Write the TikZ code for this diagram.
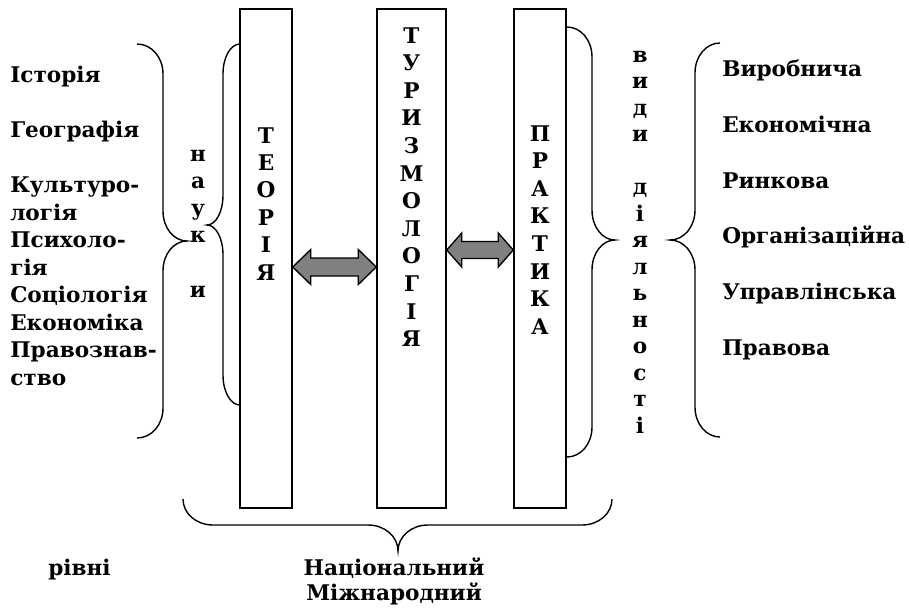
\documentclass[tikz,border=0pt]{standalone}
\usepackage{fontspec}
\setmainfont{DejaVu Serif}
\usetikzlibrary{calc}
% vertical brace: x_end, y_top, y_bot, x_body, x_tip, y_tip
\newcommand\vbr[6]{%
  \draw[brc] (#1,#2) .. controls ({#1+0.55*(#4-#1)},#2) and (#4,{#2+13}) .. (#4,{#2+30})
    -- (#4,{#6-30}) .. controls (#4,{#6-13}) and ({#4+0.45*(#5-#4)},#6) .. (#5,#6)
    .. controls ({#4+0.45*(#5-#4)},#6) and (#4,{#6+13}) .. (#4,{#6+30})
    -- (#4,{#3-30}) .. controls (#4,{#3-13}) and ({#1+0.55*(#4-#1)},#3) .. (#1,#3);}
% horizontal brace: y_end, x_left, x_right, y_body, y_tip, x_tip
\newcommand\hbr[6]{%
  \draw[brc] (#2,#1) .. controls (#2,{#1+0.55*(#4-#1)}) and ({#2+13},#4) .. ({#2+30},#4)
    -- ({#6-30},#4) .. controls ({#6-13},#4) and (#6,{#4+0.45*(#5-#4)}) .. (#6,#5)
    .. controls (#6,{#4+0.45*(#5-#4)}) and ({#6+13},#4) .. ({#6+30},#4)
    -- ({#3-30},#4) .. controls ({#3-13},#4) and (#3,{#1+0.55*(#4-#1)}) .. (#3,#1);}
\begin{document}
\begin{tikzpicture}[x=0.75pt,y=-0.75pt,
  box/.style={draw, line width=1.1pt, rectangle, inner sep=0pt, fill=white},
  brc/.style={line width=1.05pt},
  lbl/.style={font=\fontsize{16.2}{19}\selectfont\bfseries, inner sep=0pt},
  dbl/.style={draw, fill=arrgray, line width=1pt, line join=miter}]
\definecolor{arrgray}{HTML}{808080}
\useasboundingbox (0,0) rectangle (909,607);

% columns
\node[box, minimum width=39pt, minimum height=374.25pt] (teoria) at (266,258.5) {};
\node[box, minimum width=51.75pt, minimum height=374.25pt] (turyz) at (411.5,258.5) {};
\node[box, minimum width=39pt, minimum height=374.25pt] (prakt) at (540,258.5) {};

\foreach \c [count=\i from 0] in {Т,Е,О,Р,І,Я}
  \node[lbl, anchor=base] (te-\i) at (266,{143+27.4*\i}) {\c};
\foreach \c [count=\i from 0] in {Т,У,Р,И,З,М,О,Л,О,Г,І,Я}
  \node[lbl, anchor=base] (tu-\i) at (411.5,{43+27.6*\i}) {\c};
\foreach \c [count=\i from 0] in {П,Р,А,К,Т,И,К,А}
  \node[lbl, anchor=base] (pr-\i) at (540,{141+27.6*\i}) {\c};

% double arrows
\coordinate (a1) at (0,267);
\coordinate (a2) at (0,250);
\path (teoria.east |- a1) coordinate (L1) (turyz.west |- a1) coordinate (R1);
\path (turyz.east |- a2) coordinate (L2) (prakt.west |- a2) coordinate (R2);
\draw[dbl] (L1) -- ($(L1)+(18,-17.5)$) -- ($(L1)+(18,-9)$) -- ($(R1)+(-18,-9)$)
  -- ($(R1)+(-18,-17.5)$) -- (R1) -- ($(R1)+(-18,17.5)$) -- ($(R1)+(-18,9)$)
  -- ($(L1)+(18,9)$) -- ($(L1)+(18,17.5)$) -- cycle;
\draw[dbl] (L2) -- ($(L2)+(15,-17)$) -- ($(L2)+(15,-8.5)$) -- ($(R2)+(-15,-8.5)$)
  -- ($(R2)+(-15,-17)$) -- (R2) -- ($(R2)+(-15,17)$) -- ($(R2)+(-15,8.5)$)
  -- ($(L2)+(15,8.5)$) -- ($(L2)+(15,17)$) -- cycle;

% braces
\vbr{137}{44}{438}{163}{187}{241}
\vbr{240}{44}{405}{223}{207}{225}
\vbr{567}{27}{457}{592}{615}{240}
\vbr{720}{43}{437}{695}{670}{240}
\hbr{499}{183}{612}{525}{551}{398}

% left list
\foreach \t/\k [count=\i] in {Історія/0,Географія/2,Культуро-/4,логія/5,Психоло-/6,гія/7,Соціологія/8,Економіка/9,Правознав-/10,ство/11}
  \node[lbl, anchor=base west] (ll-\i) at (10,{82.5+27.5*\k}) {\t};
% науки
\foreach \c/\k [count=\i] in {н/0,а/1,у/2,к/3,и/5}
  \node[lbl, anchor=base] (nk-\i) at (198,{161+27.3*\k}) {\c};
% види діяльності
\foreach \c/\k [count=\i] in {в/0,и/1,д/2,и/3,д/5,і/6,я/7,л/8,ь/9,н/10,о/11,с/12,т/13,і/14}
  \node[lbl, anchor=base] (vd-\i) at (640,{62+26.5*\k}) {\c};
% right list
\foreach \t [count=\i from 0] in {Виробнича,Економічна,Ринкова,Організаційна,Управлінська,Правова}
  \node[lbl, anchor=base west] (rl-\i) at (722,{76.5+55.8*\i}) {\t};

% bottom
\node[lbl, anchor=base west] (rivni) at (48,575) {рівні};
\node[lbl, anchor=base] (nat) at (394,575) {Національний};
\node[lbl, anchor=base] (mizh) at (394,600) {Міжнародний};
\end{tikzpicture}
\end{document}
